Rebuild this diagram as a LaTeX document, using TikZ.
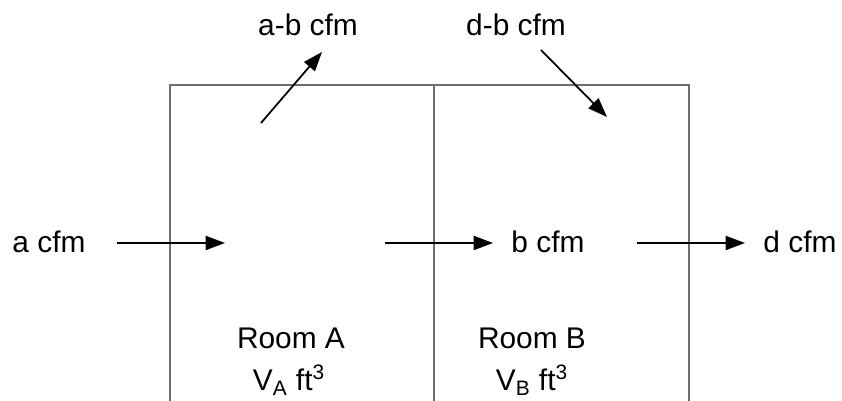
\documentclass[tikz,border=0pt]{standalone}
\usepackage{fontspec}
\setmainfont{Liberation Sans}
\usepackage{tikz}
\usetikzlibrary{arrows.meta,positioning}
\definecolor{wallgray}{HTML}{6E6E6E}

\begin{document}
\begin{tikzpicture}[
  x=0.02cm, y=-0.02cm,
  font=\fontsize{17}{20}\selectfont,
  >={Triangle[length=11pt,width=8pt]},
  wall/.style={draw=wallgray, line width=0.95pt},
  flow/.style={->, draw=black, line width=1pt},
  lbl/.style={inner sep=0pt, anchor=base},
]
\useasboundingbox (0,0) rectangle (842,401);

% ===== rooms =====
\coordinate (wl) at (170,401);
\coordinate (wm) at (434,401);
\coordinate (wr) at (689,401);
\draw[wall] (wl) |- (689,85) -- (wr);
\draw[wall] (wm) -- (434,85);

\node[lbl] (roomA) at (291,349) {Room A};
\node[lbl] (volA)  at (289,391) {V\textsubscript{A} ft\textsuperscript{3}};
\node[lbl] (roomB) at (532,349) {Room B};
\node[lbl] (volB)  at (532,391) {V\textsubscript{B} ft\textsuperscript{3}};

% ===== air flows =====
\node[lbl] (acfm)  at (49,253)  {a cfm};
\node[lbl] (bcfm)  at (548,253) {b cfm};
\node[lbl] (dcfm)  at (800,253) {d cfm};
\node[lbl] (abcfm) at (308,36)  {a-b cfm};
\node[lbl] (dbcfm) at (516,36)  {d-b cfm};

\coordinate (aOut) at (117,243);
\coordinate (aIn)  at (225,243);
\coordinate (bOut) at (385,243);
\coordinate (bIn)  at (493,243);
\coordinate (dOut) at (637,243);
\coordinate (dIn)  at (745,243);
\coordinate (abOut) at (261,123);
\coordinate (abIn)  at (322,52);
\coordinate (dbOut) at (541,50);
\coordinate (dbIn)  at (607,117);

\draw[flow] (aOut) -- (aIn);
\draw[flow] (bOut) -- (bIn);
\draw[flow] (dOut) -- (dIn);
\draw[flow] (abOut) -- (abIn);
\draw[flow] (dbOut) -- (dbIn);

\end{tikzpicture}
\end{document}
